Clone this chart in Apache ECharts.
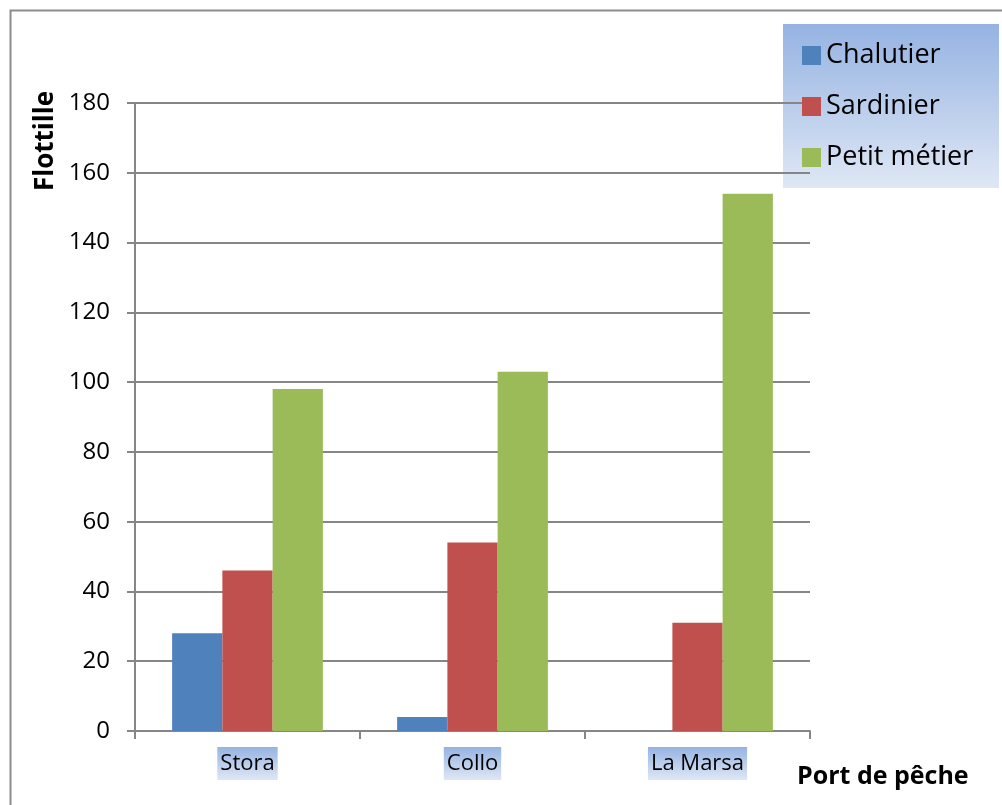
<!DOCTYPE html>
<html>
<head>
<meta charset="utf-8">
<script src="https://cdn.jsdelivr.net/npm/echarts@6/dist/echarts.min.js"></script>
<style>
  html, body { margin: 0; padding: 0; background: #fff; }
  #chart { width: 1002px; height: 805px; }
</style>
</head>
<body>
<div id="chart"></div>
<script>
var ports = ["Stora", "Collo", "La Marsa"];
var seriesNames = ["Chalutier", "Sardinier", "Petit métier"];
var chalutier = [28, 4, 0];
var sardinier = [46, 54, 31];
var petitMetier = [98, 103, 154];
var colors = ["#4f81bd", "#c0504d", "#9bbb59"];

var font = "'Open Sans', 'Liberation Sans', sans-serif";
var blueGrad = function () {
  return new echarts.graphic.LinearGradient(0, 0, 0, 1, [
    { offset: 0, color: "#95b3e2" },
    { offset: 1, color: "#dfe7f5" }
  ]);
};

var myChart = echarts.init(document.getElementById("chart"));
var option = {
  animation: false,
  color: colors,
  textStyle: { fontFamily: font },
  graphic: [
    {
      type: "rect",
      left: 8, top: 8,
      shape: { width: 1010, height: 820 },
      style: { fill: "none", stroke: "#8c8c8c", lineWidth: 2 },
      z: -1
    },
    {
      type: "rect",
      left: 783, top: 24,
      shape: { width: 216, height: 164 },
      style: { fill: blueGrad() },
      z: 0
    },
    {
      type: "text",
      left: 797, top: 764,
      style: { text: "Port de pêche", font: "bold 25px " + font, fill: "#000" }
    },
    {
      type: "text",
      x: 46, y: 141,
      rotation: Math.PI / 2,
      style: {
        text: "Flottille", font: "bold 26px " + font, fill: "#000",
        align: "center", verticalAlign: "middle"
      }
    }
  ],
  legend: {
    orient: "vertical",
    left: 797, top: 37,
    icon: "rect",
    itemWidth: 19, itemHeight: 19,
    itemGap: 24,
    textStyle: { fontSize: 27, color: "#000", fontFamily: font },
    data: seriesNames,
    z: 5
  },
  grid: { left: 135, right: 192, top: 103, bottom: 74 },
  xAxis: {
    type: "category",
    data: ports,
    axisLine: { lineStyle: { color: "#868686", width: 2 } },
    axisTick: { show: true, length: 8, lineStyle: { color: "#868686", width: 2 } },
    axisLabel: {
      margin: 16,
      fontSize: 22,
      color: "#000",
      padding: [6, 3, 5, 3],
      backgroundColor: blueGrad()
    }
  },
  yAxis: {
    type: "value",
    min: 0, max: 180, interval: 20,
    axisLine: { show: true, lineStyle: { color: "#868686", width: 2 } },
    axisTick: { show: true, length: 8, lineStyle: { color: "#868686", width: 2 } },
    axisLabel: { fontSize: 24, color: "#000", margin: 25 },
    splitLine: { lineStyle: { color: "#868686", width: 2 } }
  },
  series: [
    { name: seriesNames[0], type: "bar", data: chalutier, barGap: "0%", barCategoryGap: "33%" },
    { name: seriesNames[1], type: "bar", data: sardinier, barGap: "0%", barCategoryGap: "33%" },
    { name: seriesNames[2], type: "bar", data: petitMetier, barGap: "0%", barCategoryGap: "33%" }
  ]
};
myChart.setOption(option);
</script>
</body>
</html>
